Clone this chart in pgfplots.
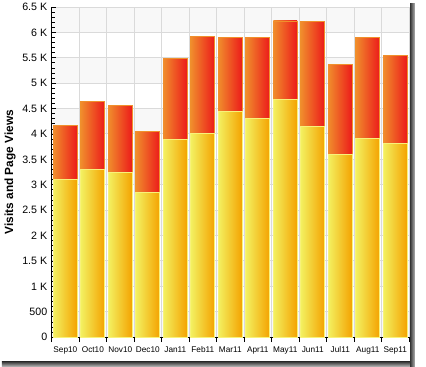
\documentclass[border=0pt]{standalone}
\usepackage{pgfplots}
\pgfplotsset{compat=1.18}
\usepackage{fontspec}
\setmainfont{Liberation Sans}
\definecolor{gridc}{HTML}{DADADA}
\definecolor{bandc}{HTML}{F8F8F8}
\definecolor{yl}{HTML}{F3F060}
\definecolor{yr}{HTML}{F4A200}
\definecolor{rl}{HTML}{F08C2C}
\definecolor{rr}{HTML}{EC1A1A}
\definecolor{yb}{HTML}{F8F27A}
\definecolor{rb}{HTML}{F0902C}
\pgfplotsset{
  pv/.style={bar shift=0pt, draw=rb, line width=0.9bp, left color=rl, right color=rr},
  vi/.style={bar shift=0pt, draw=yb, line width=0.9bp, left color=yl, right color=yr},
}
\begin{document}
\begin{tikzpicture}[x=1bp,y=1bp]
\fill[white] (0,0) rectangle (426,373);
\shade[top color=black!80, bottom color=black!30] (2,0) rectangle (426,5);
\shade[left color=black!80, right color=black!30] (421,0) rectangle (426,373);
\fill[white] (0,5) rectangle (421,373);
\foreach \k in {0,2,4,6,8,10,12} {
  \fill[bandc] (53,{30+\k*26.077}) rectangle (420,{30+(\k+1)*26.077});
}
\begin{axis}[
  at={(53bp,30bp)}, anchor=south west,
  scale only axis, width=367bp, height=339bp,
  xmin=-0.5, xmax=12.5, ymin=0, ymax=6500,
  axis lines*=left,
  axis line style={black, line width=1.2bp},
  ytick={0,500,...,6500},
  yticklabels={0,500,1 K,1.5 K,2 K,2.5 K,3 K,3.5 K,4 K,4.5 K,5 K,5.5 K,6 K,6.5 K},
  minor y tick num=4,
  xtick={-0.5,0.5,...,12.5},
  xticklabels={Sep10,Oct10,Nov10,Dec10,Jan11,Feb11,Mar11,Apr11,May11,Jun11,Jul11,Aug11,Sep11,{}},
  xmajorgrids, ymajorgrids,
  grid style={gridc, line width=1bp},
  tick align=inside,
  tick style={black, line width=0.8bp},
  major tick length=5bp, minor tick length=3.5bp,
  yticklabel style={font=\fontsize{11}{12}\selectfont, xshift=-1bp},
  xticklabel style={font=\fontsize{8.5}{10}\selectfont, yshift=-1bp, xshift=14.1bp},
  ylabel={\bfseries Visits and Page Views},
  ylabel style={font=\fontsize{12.2}{14}\selectfont},
  ybar, bar width=24.5bp,
]
% totals (page views stacked on visits)
\addplot[pv] coordinates {(0,4160)};
\addplot[pv] coordinates {(1,4640)};
\addplot[pv] coordinates {(2,4560)};
\addplot[pv] coordinates {(3,4045)};
\addplot[pv] coordinates {(4,5480)};
\addplot[pv] coordinates {(5,5920)};
\addplot[pv] coordinates {(6,5900)};
\addplot[pv] coordinates {(7,5900)};
\addplot[pv] coordinates {(8,6225)};
\addplot[pv] coordinates {(9,6210)};
\addplot[pv] coordinates {(10,5370)};
\addplot[pv] coordinates {(11,5900)};
\addplot[pv] coordinates {(12,5555)};
% visits
\addplot[vi] coordinates {(0,3100)};
\addplot[vi] coordinates {(1,3300)};
\addplot[vi] coordinates {(2,3245)};
\addplot[vi] coordinates {(3,2855)};
\addplot[vi] coordinates {(4,3890)};
\addplot[vi] coordinates {(5,4005)};
\addplot[vi] coordinates {(6,4445)};
\addplot[vi] coordinates {(7,4300)};
\addplot[vi] coordinates {(8,4680)};
\addplot[vi] coordinates {(9,4145)};
\addplot[vi] coordinates {(10,3590)};
\addplot[vi] coordinates {(11,3915)};
\addplot[vi] coordinates {(12,3820)};
\end{axis}
\end{tikzpicture}
\end{document}
